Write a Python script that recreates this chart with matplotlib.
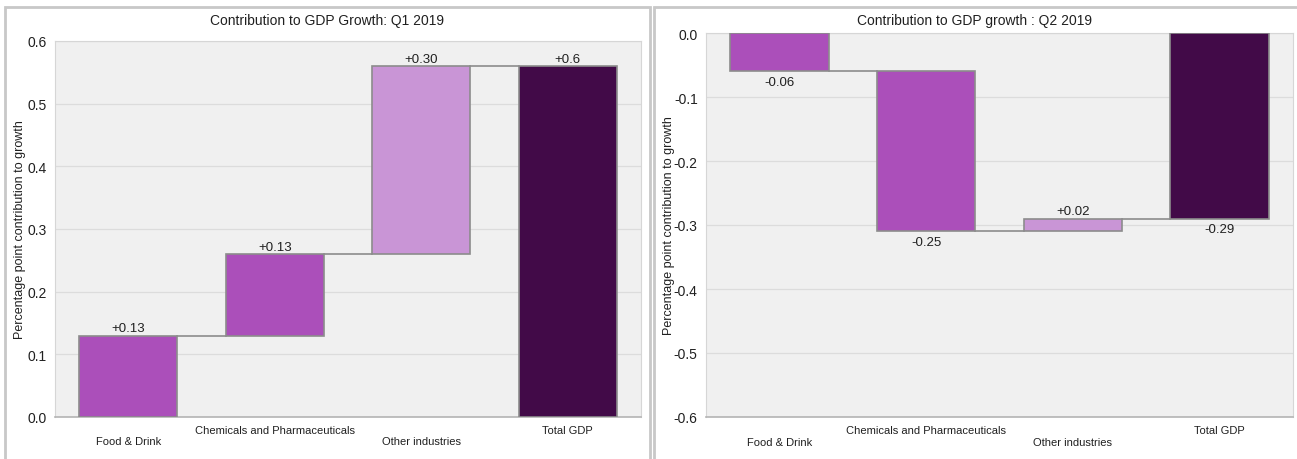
import matplotlib
matplotlib.use('Agg')
import matplotlib.pyplot as plt
from matplotlib.patches import Rectangle
from matplotlib.transforms import blended_transform_factory
import numpy as np

plt.rcParams['font.family'] = ['Liberation Sans', 'DejaVu Sans']

categories = ['Food & Drink', 'Chemicals and Pharmaceuticals', 'Other industries', 'Total GDP']

# contributions per industry, percentage points
q1_changes = [0.13, 0.13, 0.30]
q2_changes = [-0.06, -0.25, 0.02]
q1_total_decimals = 1
q2_total_decimals = 2

bar_colors = ['#ab4fba', '#ab4fba', '#c995d6', '#420a48']
edge_col = '#8c8c8c'

W, H = 1297, 460
fig = plt.figure(figsize=(W / 100, H / 100), dpi=100)


def px_box(x0, y0, x1, y1):
    # pixel box (top-left origin) -> figure fraction rect
    return [x0 / W, 1 - y1 / H, (x1 - x0) / W, (y1 - y0) / H]


def tick_fmt(v, pos):
    return f'{v + 0.0:.1f}' if abs(v) > 1e-9 else '0.0'


def waterfall(ax, changes, total_dec, ylim, title, title_x):
    n = len(changes)
    x = np.arange(n + 1)
    width = 0.67
    ends = np.cumsum(changes)
    starts = ends - np.array(changes)
    total = ends[-1]

    bottoms = list(np.minimum(starts, ends)) + [min(0, total)]
    heights = list(np.abs(changes)) + [abs(total)]
    ax.bar(x, heights, bottom=bottoms, width=width, color=bar_colors,
           edgecolor=edge_col, linewidth=1.2, zorder=3)

    # connectors between consecutive bars
    for i in range(n):
        ax.plot([x[i] + width / 2, x[i + 1] - width / 2], [ends[i], ends[i]],
                color=edge_col, lw=1.2, zorder=2)

    # value labels
    labels = [f'{c:+.2f}' for c in changes] + [f'{total:+.{total_dec}f}']
    vals = list(changes) + [total]
    tips = list(ends) + [total]
    for i, (lab, v, tip) in enumerate(zip(labels, vals, tips)):
        if v >= 0:
            ax.annotate(lab, (x[i], tip), xytext=(0, 1), textcoords='offset points',
                        ha='center', va='bottom', fontsize=9.5, color='#202020')
        else:
            ax.annotate(lab, (x[i], tip), xytext=(0, -3), textcoords='offset points',
                        ha='center', va='top', fontsize=9.5, color='#202020')

    ax.set_xlim(-0.5, n + 0.5)
    ax.set_ylim(*ylim)
    ax.set_yticks(np.round(np.arange(ylim[0], ylim[1] + 0.001, 0.1), 1))
    ax.yaxis.set_major_formatter(plt.FuncFormatter(tick_fmt))
    ax.tick_params(axis='y', length=0, labelsize=10, pad=6, colors='#202020')
    ax.set_xticks([])
    ax.set_facecolor('#f0f0f0')
    ax.grid(axis='y', color='#dcdcdc', lw=0.9, zorder=0)
    ax.set_axisbelow(True)
    for s in ax.spines.values():
        s.set_color('#d6d6d6')
    ax.spines['bottom'].set_color('#b4b4b4')
    ax.spines['bottom'].set_linewidth(1.2)

    # staggered category labels
    trans = blended_transform_factory(ax.transData, ax.transAxes)
    for i, cat in enumerate(categories):
        yoff = -0.065 if i % 2 == 0 else -0.034
        ax.text(x[i], yoff, cat, transform=trans, ha='center', va='center',
                fontsize=8, color='#202020')

    ax.set_ylabel('Percentage point contribution to growth', fontsize=9,
                  color='#202020')
    fig.text(title_x / W, 1 - 21 / H, title, ha='center', va='center',
             fontsize=10, color='#202020')


# panel frames
fig.add_artist(Rectangle((5 / W, -0.05), 645 / W, 1.05 - 8 / H, transform=fig.transFigure,
                         fill=False, edgecolor='#c8c8c8', lw=2))
fig.add_artist(Rectangle((654 / W, -0.05), 660 / W, 1.05 - 8 / H, transform=fig.transFigure,
                         fill=False, edgecolor='#c8c8c8', lw=2))

ax1 = fig.add_axes(px_box(55, 42, 641, 418))
waterfall(ax1, q1_changes, q1_total_decimals, (0.0, 0.6),
          'Contribution to GDP Growth: Q1 2019', 327)
ax1.yaxis.set_label_coords(-0.049, 0.5)

ax2 = fig.add_axes(px_box(706, 34, 1293, 418))
waterfall(ax2, q2_changes, q2_total_decimals, (-0.6, 0.0),
          'Contribution to GDP growth : Q2 2019', 975)
ax2.yaxis.set_label_coords(-0.052, 0.5)

fig.savefig('out.png', dpi=100)
